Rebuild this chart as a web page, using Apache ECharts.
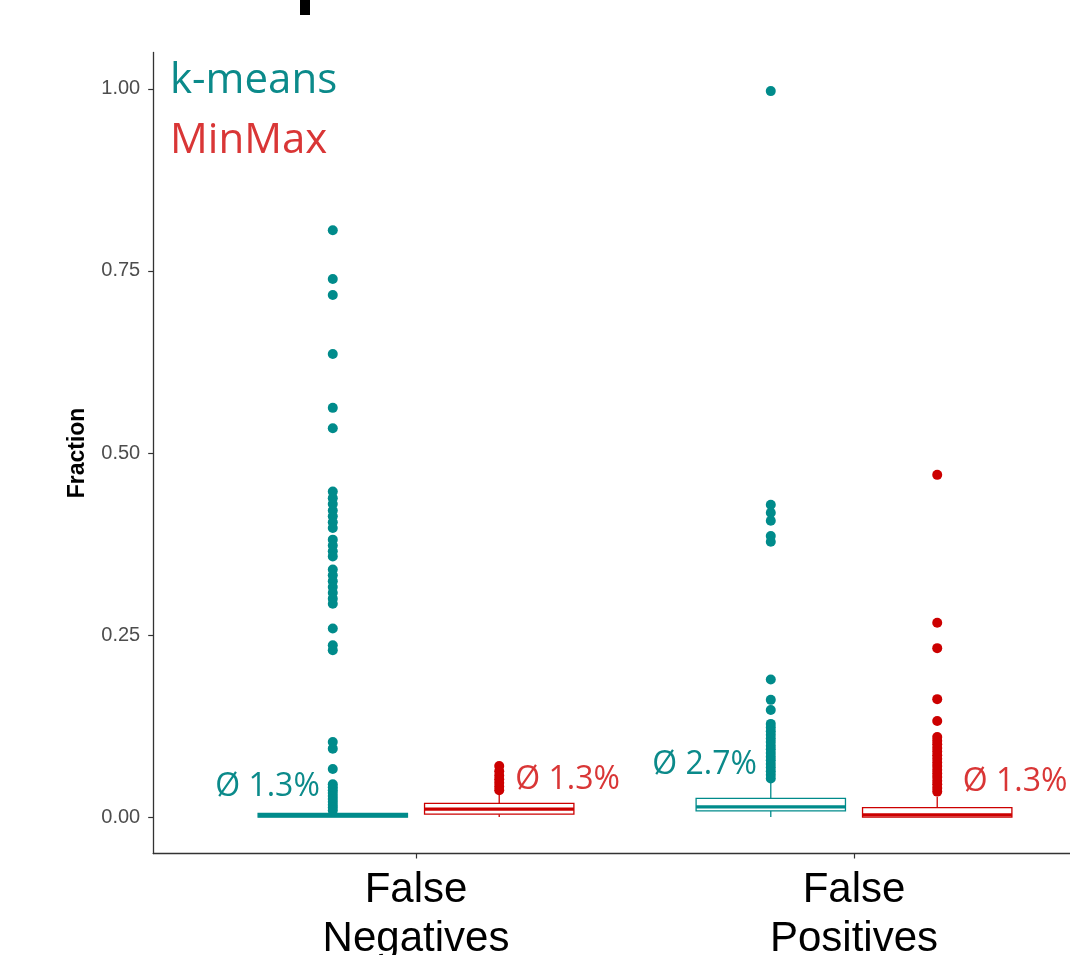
<!DOCTYPE html>
<html>
<head>
<meta charset="utf-8">
<script src="https://cdn.jsdelivr.net/npm/echarts@6/dist/echarts.min.js"></script>
<style>
html,body{margin:0;padding:0;background:#fff;}
#chart{width:1070px;height:955px;}
</style>
</head>
<body>
<div id="chart"></div>
<script>
// ---- data ----
const categories = ['False\nNegatives', 'False\nPositives'];
const yTicks = [0, 0.25, 0.5, 0.75, 1.0];
// boxes: [min, Q1, median, Q3, max] per category
const kmeansBox = [[0, 0, 0.002, 0.005, 0.011], [0, 0.0086, 0.014, 0.0256, 0.048]];
const minmaxBox = [[0, 0.004, 0.011, 0.0188, 0.033], [0, 0, 0.003, 0.013, 0.028]];
// outliers
const kmeansOutFN = [0.806, 0.739, 0.717, 0.636, 0.562, 0.534,
  0.447, 0.438, 0.43, 0.421, 0.413, 0.405, 0.397, 0.381, 0.373, 0.365, 0.358,
  0.34, 0.332, 0.324, 0.316, 0.308, 0.3, 0.293,
  0.259, 0.236, 0.229, 0.103, 0.094, 0.066,
  0.045, 0.041, 0.037, 0.033, 0.029, 0.025, 0.021, 0.017, 0.013, 0.009];
const kmeansOutFP = [0.997, 0.429, 0.418, 0.407, 0.386, 0.378, 0.189, 0.161, 0.147,
  0.128, 0.123, 0.118, 0.113, 0.108, 0.103, 0.098, 0.093, 0.088, 0.083, 0.078,
  0.073, 0.068, 0.063, 0.058, 0.053];
const minmaxOutFN = [0.07, 0.063, 0.057, 0.052, 0.047, 0.042, 0.037];
const minmaxOutFP = [0.47, 0.267, 0.232, 0.162, 0.132,
  0.11, 0.105, 0.1, 0.095, 0.09, 0.085, 0.08, 0.075, 0.07, 0.065, 0.06, 0.055,
  0.05, 0.045, 0.04, 0.035];
// mean annotations per category
const kmeansMeans = ['Ø 1.3%', 'Ø 2.7%'];
const minmaxMeans = ['Ø 1.3%', 'Ø 1.3%'];
const kmeansMeanY = [0.041, 0.071];
const minmaxMeanY = [0.051, 0.049];
const seriesNames = ['k-means', 'MinMax'];

// ---- style ----
const TEAL = '#008b8b';
const TEAL_TXT = '#0b8a8a';
const RED = '#cc0000';
const RED_TXT = '#d93636';
const DODGE = 0.19;
const BOXW = 0.341;
const LABEL_OFF_K = [-0.339, -0.341];
const LABEL_OFF_M = [0.346, 0.368];

const chart = echarts.init(document.getElementById('chart'), null, {renderer: 'canvas'});

function boxSeries(boxes, sign, color) {
  return {
    type: 'custom',
    silent: true,
    z: 2,
    clip: false,
    data: boxes.map((b, i) => [i + 1 + sign * DODGE].concat(b)),
    renderItem: function (params, api) {
      const x = api.value(0);
      const pMin = api.coord([x, api.value(1)]);
      const pQ1 = api.coord([x, api.value(2)]);
      const pMed = api.coord([x, api.value(3)]);
      const pQ3 = api.coord([x, api.value(4)]);
      const pMax = api.coord([x, api.value(5)]);
      const hw = api.size([BOXW, 0])[0] / 2;
      const cx = pMed[0];
      const ls = {stroke: color, lineWidth: 1.3};
      return {
        type: 'group',
        children: [
          {type: 'line', shape: {x1: cx, y1: pQ3[1], x2: cx, y2: pMax[1]}, style: ls},
          {type: 'line', shape: {x1: cx, y1: pQ1[1], x2: cx, y2: pMin[1]}, style: ls},
          {type: 'rect', shape: {x: cx - hw, y: pQ3[1], width: 2 * hw, height: Math.max(pQ1[1] - pQ3[1], 0.5)},
            style: {fill: '#fff', stroke: color, lineWidth: 1.3}},
          {type: 'line', shape: {x1: cx - hw, y1: pMed[1], x2: cx + hw, y2: pMed[1]},
            style: {stroke: color, lineWidth: 3.2}}
        ]
      };
    }
  };
}

function outlierSeries(vals, xpos, color) {
  return {
    type: 'scatter',
    silent: true,
    z: 3,
    symbol: 'circle',
    symbolSize: 10,
    itemStyle: {color: color, opacity: 1},
    data: vals.map(v => [xpos, v])
  };
}

function meanLabelSeries(labels, ys, offs, color) {
  return {
    type: 'scatter',
    silent: true,
    z: 4,
    symbolSize: 0,
    itemStyle: {opacity: 1},
    data: labels.map((t, i) => ({value: [i + 1 + offs[i], ys[i]], name: t})),
    label: {
      show: true,
      position: 'inside',
      formatter: p => p.name,
      color: color,
      opacity: 1,
      fontFamily: 'Open Sans',
      fontSize: 32
    }
  };
}

const option = {
  backgroundColor: '#fff',
  animation: false,
  grid: {left: 153.2, top: 52.5, height: 801, width: 963.6, containLabel: false, outerBoundsMode: 'none'},
  xAxis: {
    type: 'value',
    min: 0.4,
    max: 2.6,
    splitLine: {show: false},
    axisLine: {show: true, onZero: false, lineStyle: {color: '#333', width: 1.3}},
    axisTick: {show: true, customValues: [1, 2], length: 5, lineStyle: {color: '#333', width: 1.2}},
    axisLabel: {
      show: true,
      customValues: [1, 2],
      formatter: v => categories[Math.round(v) - 1],
      fontFamily: 'Liberation Sans',
      fontSize: 42,
      lineHeight: 49,
      color: '#000',
      margin: 12
    }
  },
  yAxis: {
    type: 'value',
    min: -0.05,
    max: 1.05,
    name: 'Fraction',
    nameLocation: 'middle',
    nameGap: 64,
    nameTextStyle: {fontFamily: 'Liberation Sans', fontSize: 23, color: '#000', fontWeight: 'bold'},
    splitLine: {show: false},
    axisLine: {show: true, onZero: false, lineStyle: {color: '#333', width: 1.3}},
    axisTick: {show: true, customValues: yTicks, length: 5, lineStyle: {color: '#333', width: 1.2}},
    axisLabel: {
      show: true,
      customValues: yTicks,
      formatter: v => v.toFixed(2),
      fontFamily: 'Liberation Sans',
      fontSize: 20,
      color: '#4d4d4d',
      margin: 13
    }
  },
  graphic: [
    {type: 'rect', shape: {x: 300, y: 0, width: 10, height: 15}, style: {fill: '#000'}},
    {type: 'text', left: 170, top: 60, style: {text: seriesNames[0], fill: TEAL_TXT, font: '42px "Open Sans"'}},
    {type: 'text', left: 170, top: 120, style: {text: seriesNames[1], fill: RED_TXT, font: '42px "Open Sans"'}}
  ],
  series: [
    boxSeries(kmeansBox, -1, TEAL),
    boxSeries(minmaxBox, 1, RED),
    outlierSeries(kmeansOutFN, 1 - DODGE, TEAL),
    outlierSeries(kmeansOutFP, 2 - DODGE, TEAL),
    outlierSeries(minmaxOutFN, 1 + DODGE, RED),
    outlierSeries(minmaxOutFP, 2 + DODGE, RED),
    meanLabelSeries(kmeansMeans, kmeansMeanY, LABEL_OFF_K, TEAL_TXT),
    meanLabelSeries(minmaxMeans, minmaxMeanY, LABEL_OFF_M, RED_TXT)
  ]
};
chart.setOption(option);
</script>
</body>
</html>
